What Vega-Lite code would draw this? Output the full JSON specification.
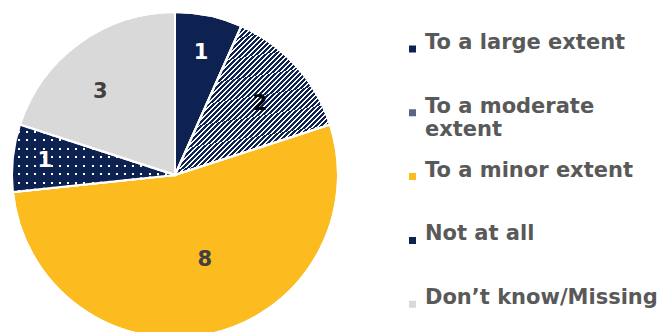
{
  "$schema": "https://vega.github.io/schema/vega-lite/v6.json",
  "width": 350,
  "height": 350,
  "padding": 0,
  "background": "white",
  "config": {"view": {"stroke": null}},
  "data": {"values": [
    {"cat": "To a large extent", "n": 1, "idx": 1},
    {"cat": "To a moderate extent", "n": 2, "idx": 2},
    {"cat": "To a minor extent", "n": 8, "idx": 3},
    {"cat": "Not at all", "n": 1, "idx": 4},
    {"cat": "Don’t know/Missing", "n": 3, "idx": 5}
  ]},
  "encoding": {
    "theta": {"field": "n", "type": "quantitative", "stack": true},
    "order": {"field": "idx", "type": "quantitative"},
    "detail": {"field": "cat", "type": "nominal"}
  },
  "layer": [
    {
      "mark": {"type": "arc", "radius": 163, "stroke": "#ffffff", "strokeWidth": 2},
      "encoding": {
        "color": {
          "field": "cat", "type": "nominal",
          "scale": {
            "domain": ["To a large extent", "To a moderate extent", "To a minor extent", "Not at all", "Don’t know/Missing"],
            "range": ["#0e2251", "#5a6584", "#fcbb1f", "#0e2251", "#d9d9d9"]
          },
          "legend": {
            "title": null, "orient": "none", "legendX": 402, "legendY": 42,
            "symbolType": "square", "symbolSize": 49, "symbolStrokeWidth": 0,
            "labelFont": "DejaVu Sans", "labelFontSize": 21, "labelFontWeight": "bold",
            "labelColor": "#595959", "labelBaseline": "alphabetic", "labelLineHeight": 25,
            "labelLimit": 400, "labelOffset": 2, "clipHeight": 14, "rowPadding": 19.8,
            "labelExpr": "datum.label == 'To a moderate extent' ? ['To a moderate', 'extent'] : [datum.label, '']"
          },
          "condition": [
            {"test": "datum.cat === 'To a moderate extent'", "value": {
              "gradient": "linear", "x1": 0, "y1": 0, "x2": 1, "y2": 1,
              "stops": [
{"offset":0,"color":"#0e2251"},{"offset":0.0096,"color":"#0e2251"},{"offset":0.0096,"color":"#fff"},{"offset":0.016,"color":"#fff"},
{"offset":0.016,"color":"#0e2251"},{"offset":0.0256,"color":"#0e2251"},{"offset":0.0256,"color":"#fff"},{"offset":0.032,"color":"#fff"},
{"offset":0.032,"color":"#0e2251"},{"offset":0.0416,"color":"#0e2251"},{"offset":0.0416,"color":"#fff"},{"offset":0.048,"color":"#fff"},
{"offset":0.048,"color":"#0e2251"},{"offset":0.0576,"color":"#0e2251"},{"offset":0.0576,"color":"#fff"},{"offset":0.064,"color":"#fff"},
{"offset":0.064,"color":"#0e2251"},{"offset":0.0736,"color":"#0e2251"},{"offset":0.0736,"color":"#fff"},{"offset":0.08,"color":"#fff"},
{"offset":0.08,"color":"#0e2251"},{"offset":0.0896,"color":"#0e2251"},{"offset":0.0896,"color":"#fff"},{"offset":0.096,"color":"#fff"},
{"offset":0.096,"color":"#0e2251"},{"offset":0.1056,"color":"#0e2251"},{"offset":0.1056,"color":"#fff"},{"offset":0.112,"color":"#fff"},
{"offset":0.112,"color":"#0e2251"},{"offset":0.1216,"color":"#0e2251"},{"offset":0.1216,"color":"#fff"},{"offset":0.128,"color":"#fff"},
{"offset":0.128,"color":"#0e2251"},{"offset":0.1376,"color":"#0e2251"},{"offset":0.1376,"color":"#fff"},{"offset":0.144,"color":"#fff"},
{"offset":0.144,"color":"#0e2251"},{"offset":0.1536,"color":"#0e2251"},{"offset":0.1536,"color":"#fff"},{"offset":0.16,"color":"#fff"},
{"offset":0.16,"color":"#0e2251"},{"offset":0.1696,"color":"#0e2251"},{"offset":0.1696,"color":"#fff"},{"offset":0.176,"color":"#fff"},
{"offset":0.176,"color":"#0e2251"},{"offset":0.1856,"color":"#0e2251"},{"offset":0.1856,"color":"#fff"},{"offset":0.192,"color":"#fff"},
{"offset":0.192,"color":"#0e2251"},{"offset":0.2016,"color":"#0e2251"},{"offset":0.2016,"color":"#fff"},{"offset":0.208,"color":"#fff"},
{"offset":0.208,"color":"#0e2251"},{"offset":0.2176,"color":"#0e2251"},{"offset":0.2176,"color":"#fff"},{"offset":0.224,"color":"#fff"},
{"offset":0.224,"color":"#0e2251"},{"offset":0.2336,"color":"#0e2251"},{"offset":0.2336,"color":"#fff"},{"offset":0.24,"color":"#fff"},
{"offset":0.24,"color":"#0e2251"},{"offset":0.2496,"color":"#0e2251"},{"offset":0.2496,"color":"#fff"},{"offset":0.256,"color":"#fff"},
{"offset":0.256,"color":"#0e2251"},{"offset":0.2656,"color":"#0e2251"},{"offset":0.2656,"color":"#fff"},{"offset":0.272,"color":"#fff"},
{"offset":0.272,"color":"#0e2251"},{"offset":0.2816,"color":"#0e2251"},{"offset":0.2816,"color":"#fff"},{"offset":0.288,"color":"#fff"},
{"offset":0.288,"color":"#0e2251"},{"offset":0.2976,"color":"#0e2251"},{"offset":0.2976,"color":"#fff"},{"offset":0.304,"color":"#fff"},
{"offset":0.304,"color":"#0e2251"},{"offset":0.3136,"color":"#0e2251"},{"offset":0.3136,"color":"#fff"},{"offset":0.32,"color":"#fff"},
{"offset":0.32,"color":"#0e2251"},{"offset":0.3296,"color":"#0e2251"},{"offset":0.3296,"color":"#fff"},{"offset":0.336,"color":"#fff"},
{"offset":0.336,"color":"#0e2251"},{"offset":0.3456,"color":"#0e2251"},{"offset":0.3456,"color":"#fff"},{"offset":0.352,"color":"#fff"},
{"offset":0.352,"color":"#0e2251"},{"offset":0.3616,"color":"#0e2251"},{"offset":0.3616,"color":"#fff"},{"offset":0.368,"color":"#fff"},
{"offset":0.368,"color":"#0e2251"},{"offset":0.3776,"color":"#0e2251"},{"offset":0.3776,"color":"#fff"},{"offset":0.384,"color":"#fff"},
{"offset":0.384,"color":"#0e2251"},{"offset":0.3936,"color":"#0e2251"},{"offset":0.3936,"color":"#fff"},{"offset":0.4,"color":"#fff"},
{"offset":0.4,"color":"#0e2251"},{"offset":0.4096,"color":"#0e2251"},{"offset":0.4096,"color":"#fff"},{"offset":0.416,"color":"#fff"},
{"offset":0.416,"color":"#0e2251"},{"offset":0.4256,"color":"#0e2251"},{"offset":0.4256,"color":"#fff"},{"offset":0.432,"color":"#fff"},
{"offset":0.432,"color":"#0e2251"},{"offset":0.4416,"color":"#0e2251"},{"offset":0.4416,"color":"#fff"},{"offset":0.448,"color":"#fff"},
{"offset":0.448,"color":"#0e2251"},{"offset":0.4576,"color":"#0e2251"},{"offset":0.4576,"color":"#fff"},{"offset":0.464,"color":"#fff"},
{"offset":0.464,"color":"#0e2251"},{"offset":0.4736,"color":"#0e2251"},{"offset":0.4736,"color":"#fff"},{"offset":0.48,"color":"#fff"},
{"offset":0.48,"color":"#0e2251"},{"offset":0.4896,"color":"#0e2251"},{"offset":0.4896,"color":"#fff"},{"offset":0.496,"color":"#fff"},
{"offset":0.496,"color":"#0e2251"},{"offset":0.5056,"color":"#0e2251"},{"offset":0.5056,"color":"#fff"},{"offset":0.512,"color":"#fff"},
{"offset":0.512,"color":"#0e2251"},{"offset":0.5216,"color":"#0e2251"},{"offset":0.5216,"color":"#fff"},{"offset":0.528,"color":"#fff"},
{"offset":0.528,"color":"#0e2251"},{"offset":0.5376,"color":"#0e2251"},{"offset":0.5376,"color":"#fff"},{"offset":0.544,"color":"#fff"},
{"offset":0.544,"color":"#0e2251"},{"offset":0.5536,"color":"#0e2251"},{"offset":0.5536,"color":"#fff"},{"offset":0.56,"color":"#fff"},
{"offset":0.56,"color":"#0e2251"},{"offset":0.5696,"color":"#0e2251"},{"offset":0.5696,"color":"#fff"},{"offset":0.576,"color":"#fff"},
{"offset":0.576,"color":"#0e2251"},{"offset":0.5856,"color":"#0e2251"},{"offset":0.5856,"color":"#fff"},{"offset":0.592,"color":"#fff"},
{"offset":0.592,"color":"#0e2251"},{"offset":0.6016,"color":"#0e2251"},{"offset":0.6016,"color":"#fff"},{"offset":0.608,"color":"#fff"},
{"offset":0.608,"color":"#0e2251"},{"offset":0.6176,"color":"#0e2251"},{"offset":0.6176,"color":"#fff"},{"offset":0.624,"color":"#fff"},
{"offset":0.624,"color":"#0e2251"},{"offset":0.6336,"color":"#0e2251"},{"offset":0.6336,"color":"#fff"},{"offset":0.64,"color":"#fff"},
{"offset":0.64,"color":"#0e2251"},{"offset":0.6496,"color":"#0e2251"},{"offset":0.6496,"color":"#fff"},{"offset":0.656,"color":"#fff"},
{"offset":0.656,"color":"#0e2251"},{"offset":0.6656,"color":"#0e2251"},{"offset":0.6656,"color":"#fff"},{"offset":0.672,"color":"#fff"},
{"offset":0.672,"color":"#0e2251"},{"offset":0.6816,"color":"#0e2251"},{"offset":0.6816,"color":"#fff"},{"offset":0.688,"color":"#fff"},
{"offset":0.688,"color":"#0e2251"},{"offset":0.6976,"color":"#0e2251"},{"offset":0.6976,"color":"#fff"},{"offset":0.704,"color":"#fff"},
{"offset":0.704,"color":"#0e2251"},{"offset":0.7136,"color":"#0e2251"},{"offset":0.7136,"color":"#fff"},{"offset":0.72,"color":"#fff"},
{"offset":0.72,"color":"#0e2251"},{"offset":0.7296,"color":"#0e2251"},{"offset":0.7296,"color":"#fff"},{"offset":0.736,"color":"#fff"},
{"offset":0.736,"color":"#0e2251"},{"offset":0.7456,"color":"#0e2251"},{"offset":0.7456,"color":"#fff"},{"offset":0.752,"color":"#fff"},
{"offset":0.752,"color":"#0e2251"},{"offset":0.7616,"color":"#0e2251"},{"offset":0.7616,"color":"#fff"},{"offset":0.768,"color":"#fff"},
{"offset":0.768,"color":"#0e2251"},{"offset":0.7776,"color":"#0e2251"},{"offset":0.7776,"color":"#fff"},{"offset":0.784,"color":"#fff"},
{"offset":0.784,"color":"#0e2251"},{"offset":0.7936,"color":"#0e2251"},{"offset":0.7936,"color":"#fff"},{"offset":0.8,"color":"#fff"},
{"offset":0.8,"color":"#0e2251"},{"offset":0.8096,"color":"#0e2251"},{"offset":0.8096,"color":"#fff"},{"offset":0.816,"color":"#fff"},
{"offset":0.816,"color":"#0e2251"},{"offset":0.8256,"color":"#0e2251"},{"offset":0.8256,"color":"#fff"},{"offset":0.832,"color":"#fff"},
{"offset":0.832,"color":"#0e2251"},{"offset":0.8416,"color":"#0e2251"},{"offset":0.8416,"color":"#fff"},{"offset":0.848,"color":"#fff"},
{"offset":0.848,"color":"#0e2251"},{"offset":0.8576,"color":"#0e2251"},{"offset":0.8576,"color":"#fff"},{"offset":0.864,"color":"#fff"},
{"offset":0.864,"color":"#0e2251"},{"offset":0.8736,"color":"#0e2251"},{"offset":0.8736,"color":"#fff"},{"offset":0.88,"color":"#fff"},
{"offset":0.88,"color":"#0e2251"},{"offset":0.8896,"color":"#0e2251"},{"offset":0.8896,"color":"#fff"},{"offset":0.896,"color":"#fff"},
{"offset":0.896,"color":"#0e2251"},{"offset":0.9056,"color":"#0e2251"},{"offset":0.9056,"color":"#fff"},{"offset":0.912,"color":"#fff"},
{"offset":0.912,"color":"#0e2251"},{"offset":0.9216,"color":"#0e2251"},{"offset":0.9216,"color":"#fff"},{"offset":0.928,"color":"#fff"},
{"offset":0.928,"color":"#0e2251"},{"offset":0.9376,"color":"#0e2251"},{"offset":0.9376,"color":"#fff"},{"offset":0.944,"color":"#fff"},
{"offset":0.944,"color":"#0e2251"},{"offset":0.9536,"color":"#0e2251"},{"offset":0.9536,"color":"#fff"},{"offset":0.96,"color":"#fff"},
{"offset":0.96,"color":"#0e2251"},{"offset":0.9696,"color":"#0e2251"},{"offset":0.9696,"color":"#fff"},{"offset":0.976,"color":"#fff"},
{"offset":0.976,"color":"#0e2251"},{"offset":0.9856,"color":"#0e2251"},{"offset":0.9856,"color":"#fff"},{"offset":0.992,"color":"#fff"},
{"offset":0.992,"color":"#0e2251"},{"offset":1,"color":"#0e2251"}
              ]
            }},
            {"test": "datum.cat === 'Not at all'", "value": {
              "gradient": "linear", "x1": 0, "y1": 0, "x2": 0, "y2": 1,
              "stops": [
{"offset":0,"color":"#0e2251"},{"offset":0.095,"color":"#0e2251"},{"offset":0.095,"color":"#fff"},{"offset":0.125,"color":"#fff"},
{"offset":0.125,"color":"#0e2251"},{"offset":0.22,"color":"#0e2251"},{"offset":0.22,"color":"#fff"},{"offset":0.25,"color":"#fff"},
{"offset":0.25,"color":"#0e2251"},{"offset":0.345,"color":"#0e2251"},{"offset":0.345,"color":"#fff"},{"offset":0.375,"color":"#fff"},
{"offset":0.375,"color":"#0e2251"},{"offset":0.47,"color":"#0e2251"},{"offset":0.47,"color":"#fff"},{"offset":0.5,"color":"#fff"},
{"offset":0.5,"color":"#0e2251"},{"offset":0.595,"color":"#0e2251"},{"offset":0.595,"color":"#fff"},{"offset":0.625,"color":"#fff"},
{"offset":0.625,"color":"#0e2251"},{"offset":0.72,"color":"#0e2251"},{"offset":0.72,"color":"#fff"},{"offset":0.75,"color":"#fff"},
{"offset":0.75,"color":"#0e2251"},{"offset":0.845,"color":"#0e2251"},{"offset":0.845,"color":"#fff"},{"offset":0.875,"color":"#fff"},
{"offset":0.875,"color":"#0e2251"},{"offset":0.97,"color":"#0e2251"},{"offset":0.97,"color":"#fff"},{"offset":1,"color":"#fff"}
              ]
            }}
          ]
        }
      }
    },
    {
      "mark": {"type": "arc", "radius": 163, "stroke": "#ffffff", "strokeWidth": 2},
      "encoding": {
        "fill": {
          "condition": {"test": "datum.cat === 'Not at all'", "value": {
            "gradient": "linear", "x1": 0, "y1": 0, "x2": 1, "y2": 0,
            "stops": [
{"offset":0,"color":"#0e2251"},{"offset":0.038,"color":"#0e2251"},{"offset":0.038,"color":"rgba(14,34,81,0)"},{"offset":0.05,"color":"rgba(14,34,81,0)"},
{"offset":0.05,"color":"#0e2251"},{"offset":0.088,"color":"#0e2251"},{"offset":0.088,"color":"rgba(14,34,81,0)"},{"offset":0.1,"color":"rgba(14,34,81,0)"},
{"offset":0.1,"color":"#0e2251"},{"offset":0.138,"color":"#0e2251"},{"offset":0.138,"color":"rgba(14,34,81,0)"},{"offset":0.15,"color":"rgba(14,34,81,0)"},
{"offset":0.15,"color":"#0e2251"},{"offset":0.188,"color":"#0e2251"},{"offset":0.188,"color":"rgba(14,34,81,0)"},{"offset":0.2,"color":"rgba(14,34,81,0)"},
{"offset":0.2,"color":"#0e2251"},{"offset":0.238,"color":"#0e2251"},{"offset":0.238,"color":"rgba(14,34,81,0)"},{"offset":0.25,"color":"rgba(14,34,81,0)"},
{"offset":0.25,"color":"#0e2251"},{"offset":0.288,"color":"#0e2251"},{"offset":0.288,"color":"rgba(14,34,81,0)"},{"offset":0.3,"color":"rgba(14,34,81,0)"},
{"offset":0.3,"color":"#0e2251"},{"offset":0.338,"color":"#0e2251"},{"offset":0.338,"color":"rgba(14,34,81,0)"},{"offset":0.35,"color":"rgba(14,34,81,0)"},
{"offset":0.35,"color":"#0e2251"},{"offset":0.388,"color":"#0e2251"},{"offset":0.388,"color":"rgba(14,34,81,0)"},{"offset":0.4,"color":"rgba(14,34,81,0)"},
{"offset":0.4,"color":"#0e2251"},{"offset":0.438,"color":"#0e2251"},{"offset":0.438,"color":"rgba(14,34,81,0)"},{"offset":0.45,"color":"rgba(14,34,81,0)"},
{"offset":0.45,"color":"#0e2251"},{"offset":0.488,"color":"#0e2251"},{"offset":0.488,"color":"rgba(14,34,81,0)"},{"offset":0.5,"color":"rgba(14,34,81,0)"},
{"offset":0.5,"color":"#0e2251"},{"offset":0.538,"color":"#0e2251"},{"offset":0.538,"color":"rgba(14,34,81,0)"},{"offset":0.55,"color":"rgba(14,34,81,0)"},
{"offset":0.55,"color":"#0e2251"},{"offset":0.588,"color":"#0e2251"},{"offset":0.588,"color":"rgba(14,34,81,0)"},{"offset":0.6,"color":"rgba(14,34,81,0)"},
{"offset":0.6,"color":"#0e2251"},{"offset":0.638,"color":"#0e2251"},{"offset":0.638,"color":"rgba(14,34,81,0)"},{"offset":0.65,"color":"rgba(14,34,81,0)"},
{"offset":0.65,"color":"#0e2251"},{"offset":0.688,"color":"#0e2251"},{"offset":0.688,"color":"rgba(14,34,81,0)"},{"offset":0.7,"color":"rgba(14,34,81,0)"},
{"offset":0.7,"color":"#0e2251"},{"offset":0.738,"color":"#0e2251"},{"offset":0.738,"color":"rgba(14,34,81,0)"},{"offset":0.75,"color":"rgba(14,34,81,0)"},
{"offset":0.75,"color":"#0e2251"},{"offset":0.788,"color":"#0e2251"},{"offset":0.788,"color":"rgba(14,34,81,0)"},{"offset":0.8,"color":"rgba(14,34,81,0)"},
{"offset":0.8,"color":"#0e2251"},{"offset":0.838,"color":"#0e2251"},{"offset":0.838,"color":"rgba(14,34,81,0)"},{"offset":0.85,"color":"rgba(14,34,81,0)"},
{"offset":0.85,"color":"#0e2251"},{"offset":0.888,"color":"#0e2251"},{"offset":0.888,"color":"rgba(14,34,81,0)"},{"offset":0.9,"color":"rgba(14,34,81,0)"},
{"offset":0.9,"color":"#0e2251"},{"offset":0.938,"color":"#0e2251"},{"offset":0.938,"color":"rgba(14,34,81,0)"},{"offset":0.95,"color":"rgba(14,34,81,0)"},
{"offset":0.95,"color":"#0e2251"},{"offset":0.988,"color":"#0e2251"},{"offset":0.988,"color":"rgba(14,34,81,0)"},{"offset":1,"color":"rgba(14,34,81,0)"}
            ]
          }},
          "value": null
        }
      }
    },
    {
      "mark": {"type": "text", "radius": 125, "font": "DejaVu Sans", "fontSize": 21, "fontWeight": "bold", "color": "#ffffff", "baseline": "middle", "align": "center"},
      "encoding": {"text": {"condition": {"test": "datum.cat === 'To a large extent'", "field": "n", "type": "nominal"}, "value": ""}}
    },
    {
      "mark": {"type": "text", "radius": 111, "thetaOffset": 0.037, "font": "DejaVu Sans", "fontSize": 21, "fontWeight": "bold", "color": "#000000", "baseline": "middle", "align": "center"},
      "encoding": {"text": {"condition": {"test": "datum.cat === 'To a moderate extent'", "field": "n", "type": "nominal"}, "value": ""}}
    },
    {
      "mark": {"type": "text", "radius": 90, "thetaOffset": -0.129, "font": "DejaVu Sans", "fontSize": 21, "fontWeight": "bold", "color": "#404040", "baseline": "middle", "align": "center"},
      "encoding": {"text": {"condition": {"test": "datum.cat === 'To a minor extent'", "field": "n", "type": "nominal"}, "value": ""}}
    },
    {
      "mark": {"type": "text", "radius": 131, "font": "DejaVu Sans", "fontSize": 21, "fontWeight": "bold", "color": "#ffffff", "baseline": "middle", "align": "center"},
      "encoding": {"text": {"condition": {"test": "datum.cat === 'Not at all'", "field": "n", "type": "nominal"}, "value": ""}}
    },
    {
      "mark": {"type": "text", "radius": 112, "thetaOffset": -0.103, "font": "DejaVu Sans", "fontSize": 21, "fontWeight": "bold", "color": "#404040", "baseline": "middle", "align": "center"},
      "encoding": {"text": {"condition": {"test": "datum.cat === 'Don’t know/Missing'", "field": "n", "type": "nominal"}, "value": ""}}
    }
  ]
}
